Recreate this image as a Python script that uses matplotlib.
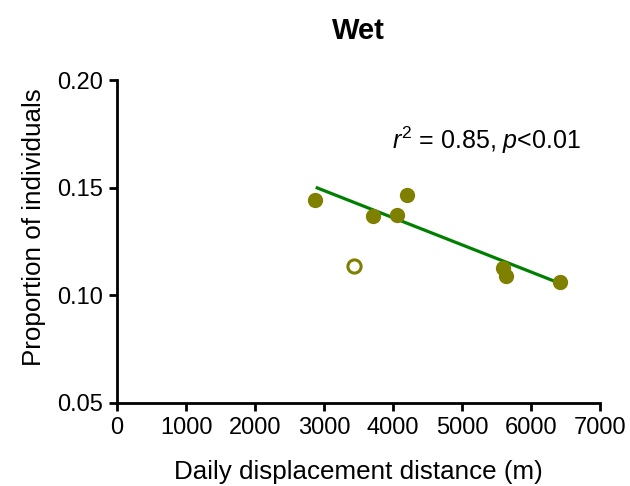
import matplotlib
matplotlib.use("Agg")
import matplotlib.pyplot as plt

plt.rcParams['font.family'] = ['Liberation Sans', 'DejaVu Sans']
plt.rcParams['mathtext.fontset'] = 'custom'
plt.rcParams['mathtext.rm'] = 'Liberation Sans'
plt.rcParams['mathtext.it'] = 'Liberation Sans:italic'

# filled points (included in fit)
x_filled = [2870, 3715, 4060, 4210, 5590, 5645, 6420]
y_filled = [0.1443, 0.1368, 0.1372, 0.1467, 0.1128, 0.1090, 0.1060]
# open point (excluded)
x_open = [3430]
y_open = [0.1135]
# regression line endpoints
fit_x = [2880, 6420]
fit_y = [0.1502, 0.1056]

xticks = [0, 1000, 2000, 3000, 4000, 5000, 6000, 7000]
yticks = [0.05, 0.10, 0.15, 0.20]

fig = plt.figure(figsize=(6.3, 4.86), dpi=100)
ax = fig.add_axes([0.186, 0.171, 0.766, 0.664])

ax.plot(fit_x, fit_y, color='#008000', lw=2.3, zorder=2, solid_capstyle='butt')
ax.plot(x_filled, y_filled, 'o', color='#808000', ms=10, mec='#808000', zorder=3)
ax.plot(x_open, y_open, 'o', mfc='white', mec='#808000', mew=2.2, ms=9.5, zorder=3)

ax.set_xlim(0, 7000)
ax.set_ylim(0.05, 0.20)
ax.set_xticks(xticks)
ax.set_yticks(yticks)
ax.set_yticklabels([f"{v:.2f}" for v in yticks])
ax.spines['top'].set_visible(False)
ax.spines['right'].set_visible(False)
for s in ['left', 'bottom']:
    ax.spines[s].set_linewidth(2)
ax.tick_params(axis='both', direction='out', width=2, length=6, labelsize=17, pad=4)

ax.set_xlabel('Daily displacement distance (m)', fontsize=18.7, labelpad=15)
ax.set_ylabel('Proportion of individuals', fontsize=18.7, labelpad=8, y=0.545)
ax.set_title('Wet', fontsize=21, fontweight='bold', pad=30)

ax.text(3980, 0.172, r'$r^2$ = 0.85, $p$<0.01', fontsize=18, va='center', ha='left')

fig.savefig('out.png', dpi=100)
